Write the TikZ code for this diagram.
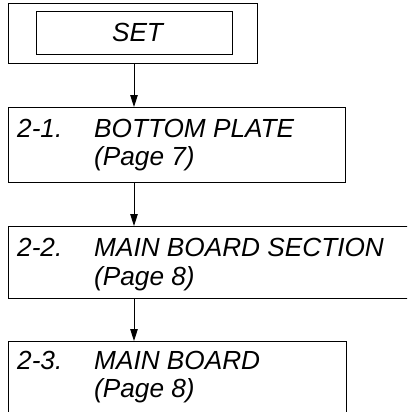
\documentclass[tikz,border=0pt]{standalone}
\usepackage{fontspec}
\setmainfont{Liberation Sans}
\usetikzlibrary{arrows.meta}
\begin{document}
\begin{tikzpicture}[x=1pt,y=1pt,
  box/.style={draw,line width=1.3pt,rectangle,inner sep=0pt,anchor=north west},
  lbl/.style={anchor=base west,inner sep=0pt,font=\fontsize{26.2}{28}\selectfont\itshape},
  arr/.style={line width=0.9pt,-{Triangle[length=12pt,width=7.5pt]}}]
\useasboundingbox (0,0) rectangle (407,-412);
\clip (0,0) rectangle (407,-412);
% top box
\node[box,minimum width=249pt,minimum height=60pt] (outer) at (8,-3) {};
\node[box,minimum width=196pt,minimum height=43pt] (inner) at (36,-11) {};
\node[lbl,anchor=base] (set) at (137.5,-42) {SET};
% 2-1
\node[box,minimum width=337pt,minimum height=75pt] (b1) at (8,-107) {};
\node[lbl] (n1) at (17,-137) {2-1.};
\node[lbl] (t1) at (94,-137) {BOTTOM PLATE};
\node[lbl] (p1) at (94,-165) {(Page 7)};
% 2-2
\node[box,minimum width=420pt,minimum height=72pt] (b2) at (8,-226) {};
\node[lbl] (n2) at (17,-256) {2-2.};
\node[lbl] (t2) at (94,-256) {MAIN BOARD SECTION};
\node[lbl] (p2) at (94,-285) {(Page 8)};
% 2-3
\node[box,minimum width=338pt,minimum height=95pt] (b3) at (8,-341) {};
\node[lbl] (n3) at (17,-369) {2-3.};
\node[lbl] (t3) at (94,-369) {MAIN BOARD};
\node[lbl] (p3) at (94,-397) {(Page 8)};
% connectors
\coordinate (ax) at (134,0);
\draw[arr] (outer.south -| ax) -- (b1.north -| ax);
\draw[arr] (b1.south -| ax) -- (b2.north -| ax);
\draw[arr] (b2.south -| ax) -- (b3.north -| ax);
\end{tikzpicture}
\end{document}
